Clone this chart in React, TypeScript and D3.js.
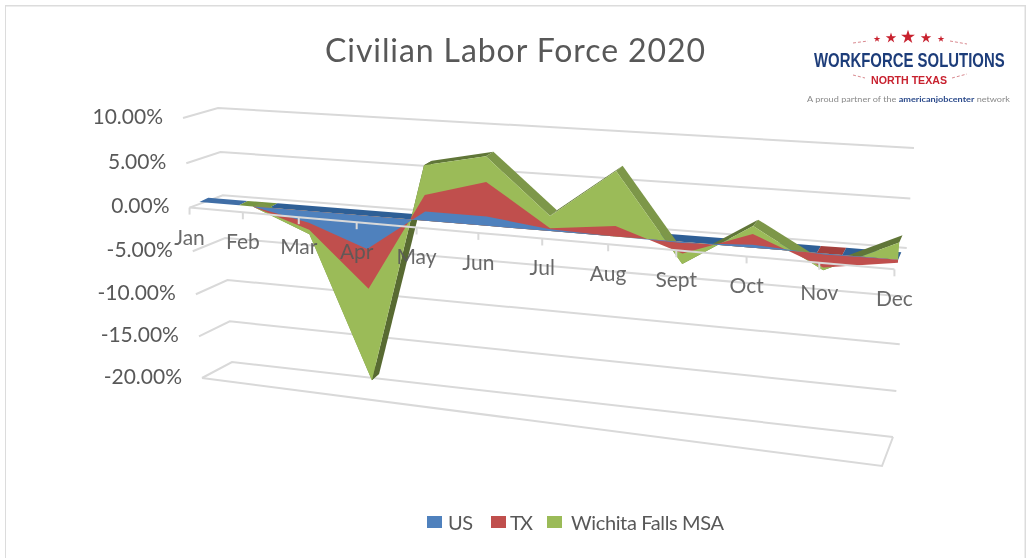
import React from "react";
import * as d3 from "d3";

const months = ["Jan","Feb","Mar","Apr","May","Jun","Jul","Aug","Sept","Oct","Nov","Dec"];
const us = [0,0,-1.3,-3.7,1,1,0.2,0,-0.1,0.3,-0.1,0];
const tx = [0,0,-2.1,-8.2,2.8,4.7,0.3,1.1,-1.2,1.4,-1.4,-0.3];
const wf = [0,0,-2.6,-18.8,6,7.4,1.6,6.8,-2.3,2.2,-1.7,1.7];
const yTicks = [10,5,0,-5,-10,-15,-20];
const yLabels = ["10.00%","5.00%","0.00%","-5.00%","-10.00%","-15.00%","-20.00%"];
const legendNames = ["US","TX","Wichita Falls MSA"];
const COL = { us:"#4f81bd", tx:"#c0504d", wf:"#9bbb59" };
const bandRuns: [number,number,string][] = [[0,0.75,"#3f6ea6"],[0.75,1.3,"#76963f"],[1.3,9.9,"#2f5f96"],[9.9,10.25,"#a33f3c"],[10.25,11,"#2f5f96"]];

type Pt = [number,number];
function quadH(p0:Pt,p1:Pt,p2:Pt,p3:Pt){
  const dx1=p1[0]-p2[0],dx2=p3[0]-p2[0],sx=p0[0]-p1[0]+p2[0]-p3[0];
  const dy1=p1[1]-p2[1],dy2=p3[1]-p2[1],sy=p0[1]-p1[1]+p2[1]-p3[1];
  const det=dx1*dy2-dx2*dy1;
  const g=(sx*dy2-dx2*sy)/det,h=(dx1*sy-sx*dy1)/det;
  const a=p1[0]-p0[0]+g*p1[0],b=p3[0]-p0[0]+h*p3[0],c=p0[0];
  const d=p1[1]-p0[1]+g*p1[1],e=p3[1]-p0[1]+h*p3[1],f=p0[1];
  return (u:number,v:number):Pt=>{const w=g*u+h*v+1;return [(a*u+b*v+c)/w,(d*u+e*v+f)/w];};
}
const tS = d3.scalePow().exponent(1.015).domain([0,11]).range([0,1]);
const vS = d3.scaleLinear().domain([10,-20]).range([0,1]);
const frontH = quadH([183,118],[901,165],[882,466],[202,378]);
const backH = quadH([218,108],[914,148],[893,437],[232,362]);
const P=(m:number,val:number,dx:number,dy:number=dx):Pt=>{
  const f=frontH(tS(m),vS(val)),b=backH(tS(m),vS(val));
  return [f[0]+(b[0]-f[0])*dx,f[1]+(b[1]-f[1])*dy];
};
const poly=(pts:Pt[])=>d3.line()(pts)+"Z";
const FX=0.3,FY=0.45,BX=0.56,BY=0.8;
const F=(m:number,v:number)=>P(m,v,FX,FY);
const B=(m:number,v:number)=>P(m,v,BX,BY);

function Series({vals,color,extrude}:{vals:number[],color:string,extrude?:boolean}){
  const base=d3.color(color)!;
  const front:Pt[]=vals.map((v,i)=>F(i,v));
  const baseL:Pt[]=vals.map((_,i)=>F(i,0)).reverse();
  return <g>
    {extrude&&vals.slice(1).map((v,i)=>{
      if(v===0&&vals[i]===0) return null;
      const rising=v>vals[i];
      const steep=Math.abs(v-vals[i])>10;
      const fill=rising?base.darker(steep?1.6:1.3).formatHex():base.darker(0.6).formatHex();
      return <path key={i} d={poly([F(i,vals[i]),F(i+1,v),B(i+1,v),B(i,vals[i])])} fill={fill}/>;
    })}
    <path d={poly([...front,...baseL])} fill={color}/>
  </g>;
}

export default function App(){
  const grid="#d9d9d9";
  const star=(r:number)=>d3.symbol(d3.symbolStar,r)()!;
  return <svg width={1027} height={558} style={{position:"absolute",left:0,top:0,background:"#fff"}} fontFamily="Lato, 'Open Sans', sans-serif">
    <defs><filter id="soft" x="0" y="0" width="100%" height="100%"><feGaussianBlur stdDeviation={0.45}/></filter></defs>
    <g filter="url(#soft)">
    <rect x={5} y={5.5} width={1020.5} height={560} fill="#fff" stroke="#dcdcdc" strokeWidth={2}/>
    <text x={515} y={62} textAnchor="middle" fontSize={32} fill="#595959" textLength={380}>Civilian Labor Force 2020</text>
    <g>
      {[[877,39,14],[891,38,34],[908,37,60],[926,38,34],[941,39,14]].map(([x,y,r],i)=><path key={i} d={star(r)} transform={`translate(${x},${y})`} fill="#c8202f"/>)}
      <text transform="translate(814,67) scale(0.711,1)" fontSize={21} fontWeight={700} fill="#1f3d7a" fontFamily="'Liberation Sans', sans-serif">WORKFORCE SOLUTIONS</text>
      <text x={909} y={84} textAnchor="middle" fontSize={11.5} fontWeight={700} fill="#c8202f" fontFamily="'Liberation Sans', sans-serif" textLength={76} lengthAdjust="spacingAndGlyphs">NORTH TEXAS</text>
      <path d="M853 43L868 41M950 41L967 44M853 75L865 78M952 78L967 74" stroke="#d98a90" strokeDasharray="3 2" fill="none"/>
      <text x={908.5} y={102} textAnchor="middle" fontSize={8} fill="#8a8a8a" textLength={203} lengthAdjust="spacingAndGlyphs">A proud partner of the <tspan fill="#2b4a8b" fontWeight={700}>americanjobcenter</tspan> network</text>
    </g>
    {yTicks.map(v=><path key={v} d={d3.line()([P(0,v,0),P(0,v,1),P(11,v,1)])!} fill="none" stroke={grid} strokeWidth={2}/>)}
    <path d={d3.line()([P(0,-20,0),P(11,-20,0),P(11,-20,1)])!} fill="none" stroke={grid} strokeWidth={2}/>
    {yTicks.map((v,i)=><text key={v} x={P(0,v,0)[0]-20} y={P(0,v,0)[1]-2} dy="0.36em" textAnchor="end" fontSize={21} fill="#595959">{yLabels[i]}</text>)}
    {bandRuns.map(([s,e,c],i)=><path key={i} d={poly([F(s,0),F(e,0),B(e,0),B(s,0)])} fill={c}/>)}
    <Series vals={wf} color={COL.wf} extrude/>
    <Series vals={tx} color={COL.tx}/>
    <Series vals={us} color={COL.us}/>
    <path d={d3.line()(months.map((_,i)=>P(i,0,0)))!} fill="none" stroke={grid} strokeWidth={2}/>
    {months.map((_,i)=>{const p=P(i,0,0);return <line key={i} x1={p[0]} x2={p[0]} y1={p[1]} y2={p[1]+7} stroke={grid} strokeWidth={2}/>;})}
    {months.map((m,i)=>{const p=P(i,0,0);return <text key={m} x={p[0]} y={p[1]+37} textAnchor="middle" fontSize={21} fill="#595959" fillOpacity={0.9}>{m}</text>;})}
    {[[427,448],[491,510],[547,571]].map(([sx,tx_],i)=><g key={i}>
      <rect x={sx} y={516} width={15} height={12} fill={[COL.us,COL.tx,COL.wf][i]}/>
      <text x={tx_} y={530} fontSize={20} fill="#595959" textLength={[25,23,153][i]}>{legendNames[i]}</text>
    </g>)}
    </g>
  </svg>;
}
